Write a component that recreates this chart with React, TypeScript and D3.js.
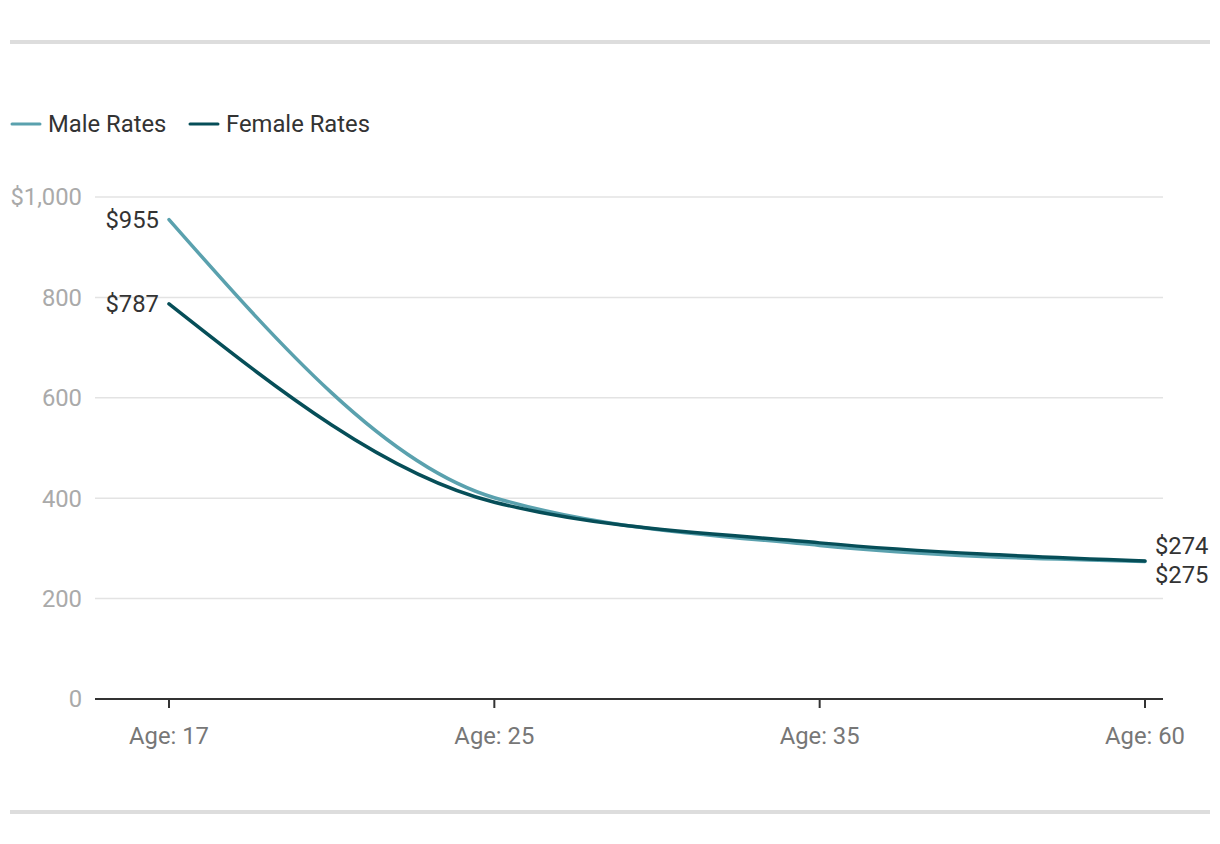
import React from "react";
import * as d3 from "d3";

const ages = ["Age: 17", "Age: 25", "Age: 35", "Age: 60"];
const maleRates = [955, 401, 306, 274];
const femaleRates = [787, 392, 311, 275];
const yTicks = [0, 200, 400, 600, 800, 1000];

const MALE = "#5aa1ae";
const FEMALE = "#064e58";
const FS = 23.8;

const App = () => {
  const width = 1220;
  const height = 844;

  const x = d3.scalePoint<string>().domain(ages).range([169, 1145]);
  const y = d3.scaleLinear().domain([0, 1000]).range([699, 197]);

  const line = d3
    .line<number>()
    .x((_, i) => x(ages[i]) as number)
    .y((d) => y(d))
    .curve(d3.curveMonotoneX);

  const series = [
    { name: "Male Rates", values: maleRates, color: MALE },
    { name: "Female Rates", values: femaleRates, color: FEMALE },
  ];

  const fmt = (v: number) => "$" + d3.format(",")(v);
  const last = ages.length - 1;

  return (
    <svg
      width={width}
      height={height}
      style={{ position: "absolute", left: 0, top: 0, fontFamily: "Roboto, sans-serif" }}
    >
      <rect x={10} y={40} width={1200} height={4} fill="#dddddd" />
      <rect x={10} y={810} width={1200} height={4} fill="#dddddd" />

      {/* legend */}
      <g>
        <line x1={12} x2={40} y1={124} y2={124} stroke={MALE} strokeWidth={3} strokeLinecap="round" />
        <text x={48} y={124} dy="0.35em" fontSize={FS} fill="#333">Male Rates</text>
        <line x1={190} x2={218} y1={124} y2={124} stroke={FEMALE} strokeWidth={3} strokeLinecap="round" />
        <text x={226} y={124} dy="0.35em" fontSize={FS} fill="#333">Female Rates</text>
      </g>

      {/* grid + y labels */}
      {yTicks.map((t) => (
        <g key={t}>
          {t > 0 && (
            <line x1={95} x2={1163} y1={y(t)} y2={y(t)} stroke="#e3e3e3" strokeWidth={1.5} />
          )}
          <text x={82} y={y(t)} dy="0.35em" textAnchor="end" fontSize={FS} fill="#aaaaaa">
            {t === 1000 ? fmt(t) : d3.format(",")(t)}
          </text>
        </g>
      ))}

      {/* x axis */}
      <line x1={95} x2={1163} y1={y(0)} y2={y(0)} stroke="#333" strokeWidth={2} />
      {ages.map((a) => (
        <g key={a}>
          <line x1={x(a)} x2={x(a)} y1={y(0)} y2={y(0) + 9} stroke="#333" strokeWidth={2} />
          <text x={x(a)} y={736} dy="0.35em" textAnchor="middle" fontSize={FS} fill="#777">
            {a}
          </text>
        </g>
      ))}

      {/* lines */}
      {series.map((s) => (
        <path
          key={s.name}
          d={line(s.values) ?? ""}
          fill="none"
          stroke={s.color}
          strokeWidth={3.5}
          strokeLinecap="round"
        />
      ))}

      {/* value labels */}
      {series.map((s) => (
        <text
          key={s.name + "-start"}
          x={(x(ages[0]) as number) - 10}
          y={y(s.values[0])}
          dy="0.35em"
          textAnchor="end"
          fontSize={FS}
          fill="#333"
        >
          {fmt(s.values[0])}
        </text>
      ))}
      {series.map((s, i) => (
        <text
          key={s.name + "-end"}
          x={(x(ages[last]) as number) + 10}
          y={y(s.values[last]) + (i === 0 ? -16 : 14)}
          dy="0.35em"
          textAnchor="start"
          fontSize={FS}
          fill="#333"
        >
          {fmt(s.values[last])}
        </text>
      ))}
    </svg>
  );
};

export default App;
